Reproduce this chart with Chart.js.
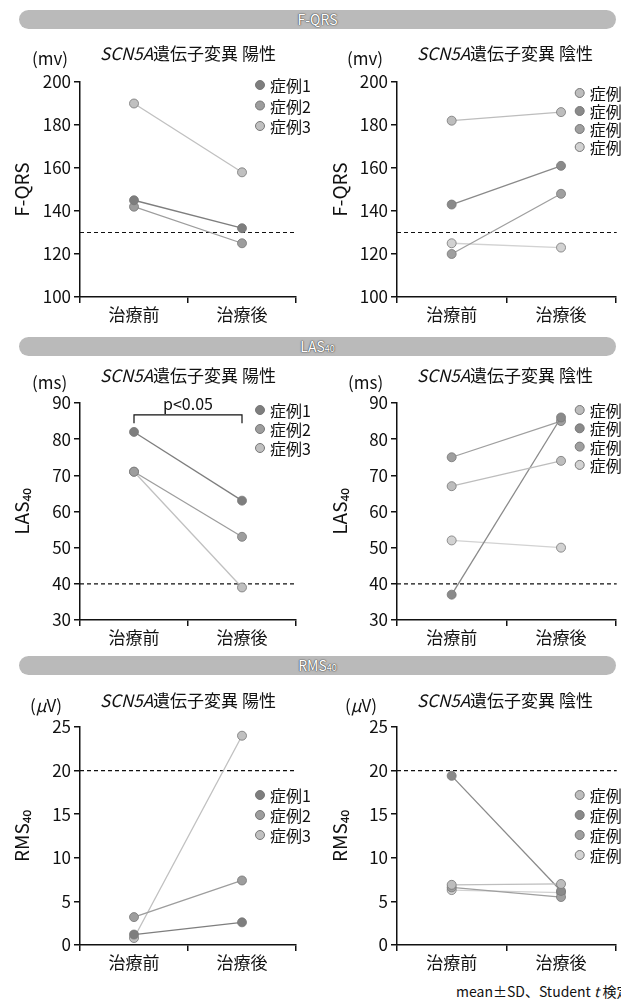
<!DOCTYPE html>
<html lang="ja">
<head>
<meta charset="utf-8">
<script src="https://cdn.jsdelivr.net/npm/chart.js@4.4.0/dist/chart.umd.min.js"></script>
<style>
  html, body { margin: 0; padding: 0; background: #fff; }
  body {
    width: 621px; height: 1001px; position: relative; overflow: hidden;
    font-family: "Noto Sans CJK JP", "Noto Sans", sans-serif; color: #111;
  }
  .band {
    position: absolute; left: 19px; width: 597px; height: 19px; border-radius: 10px;
    background: #bababa; color: #fff; font-size: 14px; line-height: 19px; text-align: center;
    text-shadow: 0 0 1px #444, 0 0 1px #444, 0 0 2px #777;
  }
  .band sub { font-size: 9px; vertical-align: baseline; }
  canvas { position: absolute; }
  .ttl { position: absolute; font-size: 17px; line-height: 20px; white-space: nowrap; transform: translateX(-50%); }
  .unit { position: absolute; font-size: 17px; line-height: 20px; white-space: nowrap; }
  .note { position: absolute; left: 456px; top: 982px; font-size: 14px; line-height: 18px; white-space: nowrap; }
</style>
</head>
<body>

<div class="band" style="top:10px">F-QRS</div>
<div class="band" style="top:337px">LAS<sub>40</sub></div>
<div class="band" style="top:656px">RMS<sub>40</sub></div>

<canvas id="fqrsPos" width="312" height="297" style="left:0;top:30px"></canvas>
<canvas id="fqrsNeg" width="303" height="297" style="left:318px;top:30px"></canvas>
<canvas id="lasPos" width="312" height="292" style="left:0;top:358px"></canvas>
<canvas id="lasNeg" width="303" height="292" style="left:318px;top:358px"></canvas>
<canvas id="rmsPos" width="312" height="297" style="left:0;top:678px"></canvas>
<canvas id="rmsNeg" width="303" height="297" style="left:318px;top:678px"></canvas>

<div class="ttl" style="left:188px;top:43px"><i>SCN5A</i>遺伝子変異 陽性</div>
<div class="ttl" style="left:505px;top:43px"><i>SCN5A</i>遺伝子変異 陰性</div>
<div class="unit" style="left:32px;top:48px">(mv)</div>
<div class="unit" style="left:347px;top:48px">(mv)</div>

<div class="ttl" style="left:188px;top:365px"><i>SCN5A</i>遺伝子変異 陽性</div>
<div class="ttl" style="left:505px;top:365px"><i>SCN5A</i>遺伝子変異 陰性</div>
<div class="unit" style="left:32px;top:372px">(ms)</div>
<div class="unit" style="left:348px;top:372px">(ms)</div>

<div class="ttl" style="left:188px;top:690px"><i>SCN5A</i>遺伝子変異 陽性</div>
<div class="ttl" style="left:505px;top:690px"><i>SCN5A</i>遺伝子変異 陰性</div>
<div class="unit" style="left:30px;top:695px">(<i>μ</i>V)</div>
<div class="unit" style="left:345px;top:695px">(<i>μ</i>V)</div>

<div class="note">mean±SD、Student <i>t</i> 検定</div>

<script>
// ---- data ----
const categories = ['治療前', '治療後'];
const posCases = ['症例1', '症例2', '症例3'];
const negCases = ['症例4', '症例5', '症例6', '症例7'];

const fqrsPositive = [[145, 132], [142, 125], [190, 158]];
const fqrsNegative = [[182, 186], [143, 161], [120, 148], [125, 123]];
const lasPositive = [[82, 63], [71, 53], [71, 39]];
const lasNegative = [[67, 74], [37, 86], [75, 85], [52, 50]];
const rmsPositive = [[1.2, 2.6], [3.2, 7.4], [0.8, 24]];
const rmsNegative = [[6.9, 7.0], [19.4, 6.2], [6.6, 5.5], [6.3, 6.0]];

const fqrsCutoff = 130;
const lasCutoff = 40;
const rmsCutoff = 20;

// ---- styles ----
const FONT = '"Noto Sans CJK JP", "Noto Sans", sans-serif';
const INK = '#111';
const posShades = ['#7e7e7e', '#9d9d9d', '#c0c0c0'];
const negShades = ['#bdbdbd', '#8a8a8a', '#9f9f9f', '#d2d2d2'];

// dashed cut-off line across the plot
const refLine = {
    id: 'refLine',
    beforeDatasetsDraw(chart, args, opts) {
        if (opts.value === undefined) return;
        const { ctx, chartArea } = chart;
        const y = chart.scales.y.getPixelForValue(opts.value);
        ctx.save();
        ctx.strokeStyle = INK;
        ctx.lineWidth = 1.2;
        ctx.setLineDash([4, 3]);
        ctx.beginPath();
        ctx.moveTo(chartArea.left, y);
        ctx.lineTo(chartArea.right + 1, y);
        ctx.stroke();
        ctx.restore();
    }
};

// legend drawn inside the plot, top right
const insideLegend = {
    id: 'insideLegend',
    afterDraw(chart, args, opts) {
        const { ctx, chartArea } = chart;
        ctx.save();
        ctx.font = '16px ' + FONT;
        ctx.textBaseline = 'middle';
        chart.data.datasets.forEach((ds, i) => {
            const x = chartArea.right - 36;
            const y = chartArea.top + opts.top + i * opts.gap;
            ctx.beginPath();
            ctx.arc(x, y, 4.5, 0, Math.PI * 2);
            ctx.fillStyle = ds.pointBackgroundColor;
            ctx.fill();
            ctx.lineWidth = 1;
            ctx.strokeStyle = ds.pointBorderColor;
            ctx.stroke();
            ctx.fillStyle = INK;
            ctx.fillText(ds.label, x + 10, y + 1);
        });
        ctx.restore();
    }
};

// significance bracket between the two categories
const bracket = {
    id: 'bracket',
    afterDraw(chart, args, opts) {
        if (!opts.text) return;
        const { ctx } = chart;
        const x0 = chart.scales.x.getPixelForValue(0);
        const x1 = chart.scales.x.getPixelForValue(1);
        const y = chart.scales.y.getPixelForValue(opts.at);
        const yf = chart.scales.y.getPixelForValue(opts.foot);
        ctx.save();
        ctx.strokeStyle = INK;
        ctx.lineWidth = 1.2;
        ctx.beginPath();
        ctx.moveTo(x0, yf);
        ctx.lineTo(x0, y);
        ctx.lineTo(x1, y);
        ctx.lineTo(x1, yf);
        ctx.stroke();
        ctx.fillStyle = INK;
        ctx.font = '16px ' + FONT;
        ctx.textAlign = 'center';
        ctx.textBaseline = 'bottom';
        ctx.fillText(opts.text, (x0 + x1) / 2, y - 3);
        ctx.restore();
    }
};

function makeChart(id, cfg) {
    return new Chart(document.getElementById(id), {
        type: 'line',
        data: {
            labels: categories,
            datasets: cfg.series.map((vals, i) => ({
                label: cfg.names[i],
                data: vals,
                borderColor: cfg.colors[i],
                backgroundColor: cfg.colors[i],
                pointBackgroundColor: cfg.colors[i],
                pointBorderColor: '#777',
                pointBorderWidth: 0.8,
                pointRadius: 4.5,
                borderWidth: 1.3,
                tension: 0
            }))
        },
        plugins: [refLine, insideLegend, bracket],
        options: {
            responsive: false,
            animation: false,
            layout: { padding: { top: cfg.padTop, right: cfg.padRight, left: 0, bottom: 0 } },
            plugins: {
                legend: { display: false },
                tooltip: { enabled: false },
                refLine: { value: cfg.cutoff },
                insideLegend: { top: cfg.legTop, gap: cfg.legGap },
                bracket: cfg.bracket || {}
            },
            scales: {
                x: {
                    offset: true,
                    grid: { offset: true, drawOnChartArea: false, tickLength: 6, color: INK, lineWidth: 1.5 },
                    border: { color: INK, width: 1.5 },
                    ticks: { color: INK, font: { family: FONT, size: 17 }, padding: 1 },
                    afterFit: s => { s.height = 30; }
                },
                y: {
                    min: cfg.min,
                    max: cfg.max,
                    ticks: { stepSize: cfg.step, color: INK, font: { family: FONT, size: 17 }, padding: 3 },
                    grid: { drawOnChartArea: false, tickLength: 6, color: INK, lineWidth: 1.5 },
                    border: { color: INK, width: 1.5 },
                    title: {
                        display: true, text: cfg.yTitle, color: INK,
                        font: { family: FONT, size: 19 }, padding: { top: 10, bottom: 0 }
                    },
                    afterFit: s => { s.width = cfg.axisW; }
                }
            }
        }
    });
}

document.addEventListener('DOMContentLoaded', () => {
    const left = { padRight: 16, axisW: 80 };
    const right = { padRight: 5, axisW: 79 };

    // ========= F-QRS =========
    makeChart('fqrsPos', { ...left, series: fqrsPositive, names: posCases, colors: posShades,
        min: 100, max: 200, step: 20, cutoff: fqrsCutoff, yTitle: 'F-QRS', padTop: 52, legTop: 3, legGap: 20.5 });
    makeChart('fqrsNeg', { ...right, series: fqrsNegative, names: negCases, colors: negShades,
        min: 100, max: 200, step: 20, cutoff: fqrsCutoff, yTitle: 'F-QRS', padTop: 52, legTop: 11, legGap: 18 });

    // ========= LAS40 =========
    makeChart('lasPos', { ...left, series: lasPositive, names: posCases, colors: posShades,
        min: 30, max: 90, step: 10, cutoff: lasCutoff, yTitle: 'LAS₄₀', padTop: 45, legTop: 7, legGap: 19,
        bracket: { text: 'p<0.05', at: 86.7, foot: 84.4 } });
    makeChart('lasNeg', { ...right, series: lasNegative, names: negCases, colors: negShades,
        min: 30, max: 90, step: 10, cutoff: lasCutoff, yTitle: 'LAS₄₀', padTop: 45, legTop: 7, legGap: 18.3 });

    // ========= RMS40 =========
    makeChart('rmsPos', { ...left, series: rmsPositive, names: posCases, colors: posShades,
        min: 0, max: 25, step: 5, cutoff: rmsCutoff, yTitle: 'RMS₄₀', padTop: 49, legTop: 68, legGap: 20 });
    makeChart('rmsNeg', { ...right, series: rmsNegative, names: negCases, colors: negShades,
        min: 0, max: 25, step: 5, cutoff: rmsCutoff, yTitle: 'RMS₄₀', padTop: 49, legTop: 68, legGap: 20 });
});
</script>
</body>
</html>
